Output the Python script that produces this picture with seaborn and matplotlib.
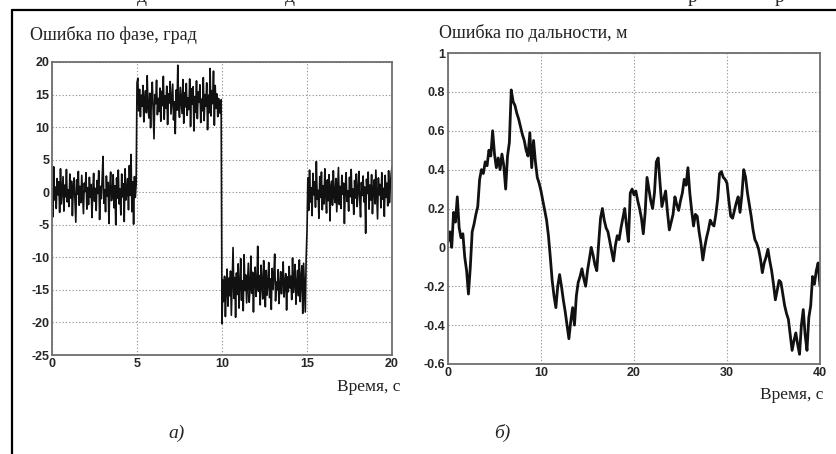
import numpy as np
import pandas as pd
import matplotlib
matplotlib.use("Agg")
import matplotlib.pyplot as plt
from matplotlib.lines import Line2D
import seaborn as sns

# ---------------- data ----------------
phase_seg1 = [0.5, -3.8, 3.9, -1.2, 0.8, -2.5, 2.1, -0.4, 1.6, -3.1,
              3.6, -1.8, 0.2, 2.4, -2.9, 1.1, -0.7, 3.5, -1.5, 0.4,
              -2.2, 2.8, -0.9, 1.7, -3.6, 0.6, 2.2, -1.1, -4.6, 1.9,
              -0.3, 3.2, -2.0, 0.9, -1.6, 2.6, -0.5, -3.3, 1.4, 0.1,
              3.0, -2.6, 0.7, -1.9, 2.3, -0.8, 1.2, -3.9, 0.3, 2.9,
              -1.4, 0.6, -2.8, 1.8, -0.2, 3.3, -4.2, 0.9, -1.0, 2.0,
              5.5, -1.7, 0.4, -3.0, 2.5, -0.6, 1.5, -4.8, 0.8, 3.1,
              -1.3, -0.4, 2.7, -2.4, 1.0, -5.0, 2.2, -0.9, 3.4, -1.8,
              0.5, -3.5, 2.8, -0.7, 1.3, -4.5, 3.6, -1.2, 0.2, 2.1,
              -2.7, 4.1, -0.5, 5.8, -3.0, 1.6, -4.9, 2.4, -0.8, 1.2]
phase_seg2 = [16.8, 17.5, 12.5, 15.8, 11.6, 14.9, 13.2, 16.4, 10.8, 14.1,
              15.6, 12.2, 17.9, 13.0, 11.4, 15.2, 9.9, 14.6, 16.9, 12.8,
              8.2, 15.0, 13.6, 17.2, 11.9, 14.4, 12.4, 16.0, 10.9, 15.5,
              13.3, 17.8, 11.2, 14.8, 12.9, 16.3, 10.4, 15.1, 13.7, 17.0,
              12.0, 14.2, 16.6, 11.1, 13.9, 9.0, 15.7, 12.6, 19.5, 13.4,
              11.5, 16.1, 14.0, 12.1, 17.3, 10.6, 15.3, 13.1, 16.7, 11.8,
              14.5, 12.7, 17.4, 10.1, 15.9, 13.5, 16.2, 9.4, 14.7, 12.3,
              17.1, 11.3, 15.4, 13.8, 16.5, 10.7, 14.3, 12.5, 17.6, 11.0,
              15.0, 13.2, 16.8, 9.6, 14.9, 12.2, 19.0, 11.7, 15.6, 13.6,
              18.6, 10.3, 16.4, 12.9, 15.1, 11.6, 14.4, 13.0, 12.1, 14.2]
phase_seg3 = [-20.2, -13.5, -16.8, -12.9, -19.1, -14.6, -11.8, -17.5, -13.2, -15.9,
              -12.1, -18.9, -14.0, -8.5, -16.3, -13.1, -19.2, -12.4, -15.7, -11.0,
              -17.8, -14.3, -10.2, -16.6, -13.6, -18.2, -9.6, -15.1, -12.7, -17.0,
              -13.9, -10.9, -16.9, -14.8, -9.8, -15.5, -12.3, -18.4, -13.0, -11.5,
              -16.0, -14.5, -8.3, -15.2, -12.8, -17.3, -11.2, -14.1, -16.4, -10.5,
              -13.4, -17.6, -12.0, -15.8, -14.2, -10.8, -16.2, -13.3, -18.0, -11.7,
              -14.9, -12.6, -9.5, -16.7, -13.8, -15.0, -11.9, -17.1, -14.4, -12.2,
              -15.6, -13.7, -10.7, -16.1, -14.0, -12.5, -18.1, -13.0, -15.3, -11.4,
              -14.7, -12.9, -16.5, -10.1, -15.4, -13.5, -11.1, -17.2, -14.1, -12.0,
              -15.9, -10.4, -16.8, -13.2, -11.3, -18.6, -10.9, -14.6, -18.4, -10.2]
phase_seg4 = [-6.0, 2.2, -2.8, 3.4, -1.5, 0.7, -3.6, 2.9, -0.4, 1.6,
              -2.3, 4.7, -1.1, 0.3, -4.0, 2.4, -0.8, 3.1, -2.7, 1.0,
              -1.8, 3.6, -0.2, -3.2, 1.9, -1.3, 2.7, -4.4, 0.8, 1.7,
              -2.0, 3.3, -0.6, -1.6, 2.1, -3.0, 0.4, 3.8, -1.9, 0.9,
              -2.5, 2.6, -0.3, 1.4, -4.8, 0.6, 3.0, -1.4, 0.2, -2.9,
              2.3, -0.7, 3.5, -1.7, 0.5, -3.4, 1.8, -0.9, 2.8, -2.2,
              0.1, 3.2, -1.0, -3.8, 1.5, -0.5, 2.5, -1.5, 0.8, -6.3,
              2.0, -0.2, 3.1, -2.6, 1.1, -1.2, 2.7, -3.3, 0.3, 1.9,
              -1.8, 3.4, -0.6, -4.1, 2.2, -0.4, 1.2, -2.4, 3.0, -1.1,
              0.6, -3.7, 2.6, -0.8, 1.4, -2.1, 3.3, -1.6, 0.9, 2.8, 3.9]

range_err = [0.03, 0.08, 0.00, 0.18, 0.13, 0.26, 0.10, 0.05, 0.07, -0.05,
             -0.12, -0.24, -0.10, 0.08, 0.12, 0.17, 0.21, 0.35, 0.40, 0.38,
             0.44, 0.42, 0.50, 0.47, 0.60, 0.48, 0.41, 0.46, 0.40, 0.48,
             0.42, 0.30, 0.47, 0.54, 0.81, 0.75, 0.73, 0.69, 0.66, 0.62,
             0.58, 0.55, 0.50, 0.47, 0.59, 0.41, 0.55, 0.44, 0.36, 0.33,
             0.29, 0.24, 0.19, 0.14, 0.06, -0.05, -0.17, -0.25, -0.31, -0.20,
             -0.14, -0.20, -0.27, -0.33, -0.40, -0.47, -0.38, -0.31, -0.40, -0.25,
             -0.18, -0.15, -0.11, -0.16, -0.20, -0.12, -0.06, 0.00, -0.04, -0.09,
             -0.12, 0.02, 0.15, 0.20, 0.14, 0.10, 0.08, 0.03, -0.02, -0.07,
             0.01, 0.06, 0.04, 0.10, 0.15, 0.20, 0.11, 0.03, 0.28, 0.30,
             0.27, 0.29, 0.24, 0.20, 0.15, 0.07, 0.18, 0.36, 0.30, 0.24,
             0.20, 0.28, 0.44, 0.46, 0.33, 0.21, 0.25, 0.29, 0.18, 0.09,
             0.13, 0.17, 0.26, 0.22, 0.19, 0.24, 0.28, 0.35, 0.32, 0.41,
             0.28, 0.19, 0.11, 0.17, 0.16, 0.08, 0.02, -0.065, 0.00, 0.05,
             0.09, 0.14, 0.12, 0.11, 0.17, 0.25, 0.38, 0.39, 0.36, 0.35,
             0.33, 0.24, 0.16, 0.15, 0.19, 0.23, 0.26, 0.18, 0.27, 0.40,
             0.36, 0.28, 0.22, 0.16, 0.09, 0.04, 0.02, -0.01, -0.06, -0.13,
             -0.08, -0.05, -0.01, -0.07, -0.12, -0.19, -0.27, -0.22, -0.17, -0.18,
             -0.24, -0.30, -0.34, -0.37, -0.45, -0.53, -0.48, -0.44, -0.50, -0.55,
             -0.40, -0.32, -0.45, -0.53, -0.36, -0.30, -0.15, -0.19, -0.12, -0.08,
             -0.20]

phase_xticks = [0, 5, 10, 15, 20]
phase_yticks = [-25, -20, -15, -10, -5, 0, 5, 10, 15, 20]
range_xticks = [0, 10, 20, 30, 40]
range_yticks = [-0.6, -0.4, -0.2, 0, 0.2, 0.4, 0.6, 0.8, 1]
range_ylabels = ["-0.6", "-0.4", "-0.2", "0", "0.2", "0.4", "0.6", "0.8", "1"]

title_left = "Ошибка по фазе, град"
title_right = "Ошибка по дальности, м"
xlabel = "Время, с"

phase_vals = phase_seg1 + phase_seg2 + phase_seg3 + phase_seg4
phase_time = np.linspace(0, 20, len(phase_vals))
range_time = np.linspace(0, 40, len(range_err))
df_phase = pd.DataFrame({"t": phase_time, "v": phase_vals})
df_range = pd.DataFrame({"t": range_time, "v": range_err})

# ---------------- style ----------------
sns.set_style("white")
plt.rcParams["font.family"] = ["Liberation Serif", "DejaVu Serif"]
plt.rcParams["axes.unicode_minus"] = False

W, H = 837, 454
fig = plt.figure(figsize=(W / 100, H / 100), dpi=100)

def fx(px):
    return px / W

def fy(py):
    return 1 - py / H

ax1 = fig.add_axes([fx(52), fy(355), fx(392) - fx(52), fy(62) - fy(355)])
ax2 = fig.add_axes([fx(448), fy(364), fx(820) - fx(448), fy(53) - fy(364)])

sns.lineplot(data=df_phase, x="t", y="v", ax=ax1, color="#111111", lw=1.2,
             estimator=None, sort=False)
sns.lineplot(data=df_range, x="t", y="v", ax=ax2, color="#111111", lw=2.0,
             estimator=None, sort=False)

for ax, xt, yt, xl, yl in [
    (ax1, phase_xticks, phase_yticks, (0, 20), (-25, 20)),
    (ax2, range_xticks, range_yticks, (0, 40), (-0.6, 1)),
]:
    ax.set_xlim(*xl)
    ax.set_ylim(*yl)
    ax.set_xticks(xt)
    ax.set_yticks(yt)
    ax.set_xlabel("")
    ax.set_ylabel("")
    ax.grid(True, color="#9a9a9a", linestyle=(0, (1.2, 1.8)), lw=0.8)
    for s in ax.spines.values():
        s.set_color("#6e6e6e")
        s.set_linewidth(1.3)
    ax.tick_params(direction="in", length=3, width=0.8, color="#6e6e6e",
                   pad=2)
    for lab in ax.get_xticklabels() + ax.get_yticklabels():
        lab.set_fontfamily("Liberation Sans")
        lab.set_fontweight("bold")
        lab.set_fontsize(9)

ax2.set_yticklabels(range_ylabels, fontfamily="Liberation Sans",
                    fontweight="bold", fontsize=9)

# titles and labels (figure coords)
fig.text(fx(30), fy(35), title_left, fontsize=13, ha="left", va="center",
         color="#222222")
fig.text(fx(439), fy(33), title_right, fontsize=13, ha="left", va="center",
         color="#222222")
fig.text(fx(400), fy(387), xlabel, fontsize=12.5, ha="right", va="center",
         color="#222222")
fig.text(fx(823), fy(395), xlabel, fontsize=12.5, ha="right", va="center",
         color="#222222")
fig.text(fx(177), fy(433), "а)", fontsize=14, style="italic", ha="center",
         va="center")
fig.text(fx(502), fy(433), "б)", fontsize=14, style="italic", ha="center",
         va="center")

# cut-off text line at the very top of the scan (descenders only)
for xp, ch in [(142, "д"), (290, "д"), (693, "р"), (780, "р")]:
    fig.text(fx(xp), fy(1.5), ch, fontsize=14, ha="center", va="baseline")

# outer frame (left and top only)
fig.add_artist(Line2D([fx(12), fx(12)], [fy(10), 0], color="black", lw=1.6,
                      transform=fig.transFigure))
fig.add_artist(Line2D([fx(12), 1], [fy(10), fy(10)], color="black", lw=1.6,
                      transform=fig.transFigure))

fig.savefig("out.png", dpi=100)
